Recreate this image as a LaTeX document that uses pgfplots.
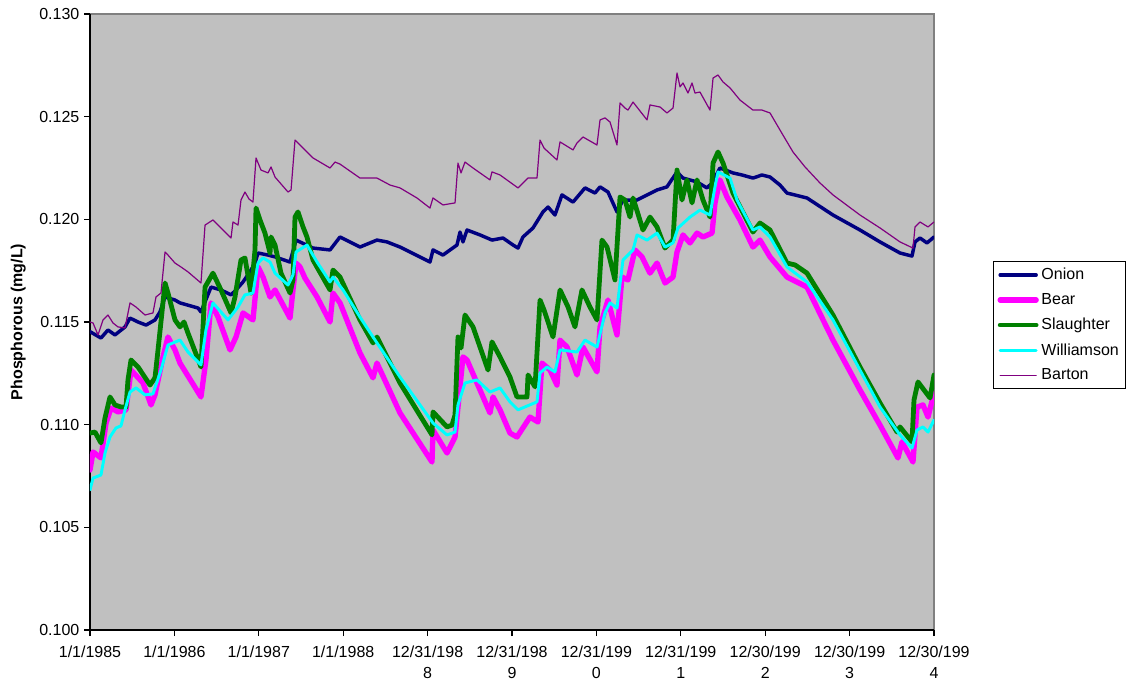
\documentclass[border=0pt]{standalone}
\usepackage{fontspec}
\setmainfont{Liberation Sans}
\usepackage{pgfplots}
\pgfplotsset{compat=1.18}
\definecolor{onion}{HTML}{000080}
\definecolor{bear}{HTML}{FF00FF}
\definecolor{slaughter}{HTML}{008000}
\definecolor{williamson}{HTML}{00FFFF}
\definecolor{barton}{HTML}{800080}
\definecolor{plotgray}{HTML}{C0C0C0}
\begin{document}
\begin{tikzpicture}
\useasboundingbox (-67.5pt,-43.5pt) rectangle (777.75pt,472.5pt);
\begin{axis}[
  scale only axis, width=633pt, height=462pt,
  xmin=1985, xmax=1995, ymin=0.100, ymax=0.130,
  axis background/.style={fill=plotgray, draw=gray, line width=0.8pt},
  axis x line*=bottom, axis y line*=left,
  axis line style={-, black, line width=0.8pt},
  xtick={1985,1986,1987,1988,1989,1990,1991,1992,1993,1994,1995},
  xticklabels={1/1/1985,1/1/1986,1/1/1987,1/1/1988,{12/31/198\\8},{12/31/198\\9},{12/31/199\\0},{12/31/199\\1},{12/30/199\\2},{12/30/199\\3},{12/30/199\\4}},
  xticklabel style={align=center, font=\fontsize{12}{16}\selectfont, yshift=-4pt},
  ytick={0.100,0.105,0.110,0.115,0.120,0.125,0.130},
  yticklabel style={font=\fontsize{12}{14}\selectfont, /pgf/number format/fixed, /pgf/number format/fixed zerofill, /pgf/number format/precision=3},
  /pgf/number format/assume math mode=true,
  scaled y ticks=false,
  tick align=outside, major tick length=4.5pt,
  tick style={black, line width=0.8pt},
  ylabel={\bfseries Phosphorous (mg/L)},
  ylabel style={at={(axis description cs:-0.085,0.5)}, anchor=center, font=\fontsize{12}{14}\selectfont},
  legend style={at={(1.07,0.495)}, anchor=west, draw=black, fill=white, line width=0.6pt,
    font=\fontsize{12}{14}\selectfont, row sep=6.8pt, inner xsep=3pt, inner ysep=4pt,
    nodes={inner xsep=2pt, inner ysep=1pt}},
  legend cell align=left,
  legend image code/.code={\draw[#1] (0pt,0pt) -- (27pt,0pt);},
  every axis plot/.append style={line join=round, line cap=round},
]
% Onion
\addplot[onion, line width=2.6pt] coordinates {
(1985.000,0.11453)(1985.130,0.11422)(1985.213,0.11461)(1985.296,0.11437)(1985.415,0.11476)
(1985.474,0.11519)(1985.569,0.11500)(1985.664,0.11485)(1985.770,0.11510)(1985.829,0.11549)
(1985.889,0.11622)(1986.007,0.11607)(1986.066,0.11593)(1986.280,0.11568)(1986.315,0.11549)
(1986.363,0.11598)(1986.434,0.11670)(1986.552,0.11656)(1986.671,0.11632)(1986.730,0.11656)
(1986.813,0.11695)(1986.908,0.11753)(1986.955,0.11787)(1986.991,0.11836)(1987.109,0.11826)
(1987.192,0.11817)(1987.370,0.11792)(1987.441,0.11899)(1987.642,0.11860)(1987.844,0.11851)
(1987.962,0.11914)(1988.199,0.11865)(1988.400,0.11899)(1988.519,0.11890)(1988.673,0.11865)
(1988.791,0.11841)(1989.028,0.11792)(1989.064,0.11851)(1989.182,0.11826)(1989.348,0.11875)
(1989.384,0.11938)(1989.419,0.11890)(1989.467,0.11948)(1989.621,0.11924)(1989.763,0.11899)
(1989.893,0.11909)(1990.012,0.11875)(1990.071,0.11860)(1990.130,0.11914)(1990.249,0.11958)
(1990.367,0.12036)(1990.427,0.12060)(1990.509,0.12021)(1990.592,0.12119)(1990.723,0.12084)
(1990.865,0.12153)(1990.983,0.12128)(1991.043,0.12158)(1991.137,0.12133)(1991.244,0.12036)
(1991.315,0.12094)(1991.481,0.12094)(1991.718,0.12143)(1991.836,0.12158)(1991.955,0.12231)
(1992.026,0.12201)(1992.192,0.12182)(1992.310,0.12153)(1992.370,0.12177)(1992.464,0.12250)
(1992.618,0.12226)(1992.725,0.12216)(1992.855,0.12201)(1992.962,0.12216)(1993.057,0.12206)
(1993.175,0.12167)(1993.258,0.12128)(1993.495,0.12104)(1993.803,0.12021)(1994.123,0.11948)
(1994.360,0.11890)(1994.597,0.11836)(1994.739,0.11821)(1994.775,0.11890)(1994.834,0.11909)
(1994.917,0.11885)(1995.000,0.11914)
};
\addlegendentry{Onion}
% Bear
\addplot[bear, line width=4pt] coordinates {
(1985.000,0.10779)(1985.036,0.10867)(1985.130,0.10838)(1985.190,0.11008)(1985.249,0.11081)
(1985.332,0.11062)(1985.427,0.11072)(1985.486,0.11266)(1985.628,0.11203)(1985.723,0.11096)
(1985.770,0.11145)(1985.865,0.11330)(1985.924,0.11427)(1986.007,0.11364)(1986.066,0.11300)
(1986.315,0.11135)(1986.374,0.11315)(1986.434,0.11593)(1986.517,0.11524)(1986.659,0.11364)
(1986.730,0.11427)(1986.813,0.11544)(1986.931,0.11510)(1986.991,0.11768)(1987.050,0.11719)
(1987.133,0.11622)(1987.192,0.11656)(1987.370,0.11519)(1987.405,0.11656)(1987.441,0.11787)
(1987.488,0.11768)(1987.547,0.11714)(1987.690,0.11622)(1987.844,0.11500)(1987.879,0.11641)
(1987.962,0.11593)(1988.199,0.11349)(1988.353,0.11228)(1988.400,0.11300)(1988.673,0.11057)
(1989.052,0.10818)(1989.064,0.10974)(1989.230,0.10862)(1989.325,0.10940)(1989.419,0.11330)
(1989.467,0.11315)(1989.739,0.11057)(1989.775,0.11135)(1989.858,0.11072)(1989.976,0.10959)
(1990.059,0.10940)(1990.213,0.11037)(1990.308,0.11013)(1990.355,0.11300)(1990.450,0.11266)
(1990.533,0.11193)(1990.569,0.11412)(1990.652,0.11378)(1990.770,0.11242)(1990.841,0.11378)
(1991.007,0.11257)(1991.043,0.11476)(1991.137,0.11607)(1991.244,0.11437)(1991.303,0.11719)
(1991.374,0.11705)(1991.457,0.11851)(1991.540,0.11817)(1991.635,0.11738)(1991.718,0.11787)
(1991.813,0.11690)(1991.908,0.11719)(1991.955,0.11841)(1992.026,0.11924)(1992.109,0.11885)
(1992.192,0.11933)(1992.263,0.11914)(1992.370,0.11933)(1992.405,0.12080)(1992.464,0.12192)
(1992.547,0.12109)(1992.701,0.11997)(1992.855,0.11865)(1992.938,0.11899)(1993.057,0.11817)
(1993.258,0.11719)(1993.495,0.11670)(1993.803,0.11412)(1994.123,0.11169)(1994.360,0.10998)
(1994.573,0.10838)(1994.621,0.10916)(1994.751,0.10818)(1994.799,0.11086)(1994.870,0.11096)
(1994.929,0.11037)(1995.000,0.11154)
};
\addlegendentry{Bear}
% Slaughter
\addplot[slaughter, line width=3.6pt] coordinates {
(1985.000,0.10959)(1985.059,0.10964)(1985.130,0.10911)(1985.178,0.11033)(1985.237,0.11135)
(1985.296,0.11096)(1985.367,0.11086)(1985.427,0.11086)(1985.450,0.11218)(1985.486,0.11315)
(1985.569,0.11281)(1985.711,0.11193)(1985.770,0.11228)(1985.806,0.11364)(1985.889,0.11690)
(1985.924,0.11641)(1986.007,0.11510)(1986.066,0.11476)(1986.114,0.11500)(1986.161,0.11446)
(1986.315,0.11281)(1986.363,0.11670)(1986.457,0.11738)(1986.552,0.11656)(1986.671,0.11544)
(1986.718,0.11622)(1986.789,0.11802)(1986.836,0.11812)(1986.908,0.11641)(1986.955,0.11851)
(1986.967,0.12055)(1987.014,0.11997)(1987.073,0.11933)(1987.133,0.11836)(1987.145,0.11914)
(1987.192,0.11875)(1987.263,0.11738)(1987.370,0.11641)(1987.405,0.11705)(1987.429,0.12011)
(1987.464,0.12036)(1987.524,0.11963)(1987.571,0.11914)(1987.642,0.11802)(1987.844,0.11656)
(1987.879,0.11753)(1987.962,0.11719)(1988.199,0.11510)(1988.353,0.11398)(1988.400,0.11427)
(1988.673,0.11203)(1989.052,0.10950)(1989.064,0.11062)(1989.230,0.10989)(1989.289,0.10998)
(1989.325,0.11047)(1989.360,0.11427)(1989.396,0.11373)(1989.443,0.11534)(1989.538,0.11476)
(1989.716,0.11266)(1989.763,0.11403)(1989.858,0.11330)(1989.976,0.11232)(1990.059,0.11135)
(1990.178,0.11135)(1990.190,0.11242)(1990.273,0.11184)(1990.332,0.11607)(1990.379,0.11559)
(1990.486,0.11427)(1990.569,0.11656)(1990.664,0.11573)(1990.746,0.11476)(1990.829,0.11656)
(1990.924,0.11573)(1991.007,0.11510)(1991.066,0.11899)(1991.126,0.11865)(1991.220,0.11705)
(1991.280,0.12109)(1991.339,0.12094)(1991.398,0.12011)(1991.434,0.12104)(1991.552,0.11948)
(1991.635,0.12011)(1991.718,0.11963)(1991.813,0.11860)(1991.908,0.11899)(1991.955,0.12240)
(1992.014,0.12094)(1992.073,0.12192)(1992.133,0.12080)(1992.192,0.12192)(1992.263,0.12094)
(1992.346,0.12011)(1992.382,0.12274)(1992.441,0.12328)(1992.500,0.12274)(1992.618,0.12128)
(1992.855,0.11938)(1992.938,0.11982)(1993.057,0.11948)(1993.258,0.11787)(1993.353,0.11778)
(1993.495,0.11738)(1993.803,0.11534)(1994.123,0.11281)(1994.360,0.11106)(1994.562,0.10964)
(1994.597,0.10989)(1994.739,0.10916)(1994.763,0.11120)(1994.810,0.11208)(1994.953,0.11130)
(1995.000,0.11242)
};
\addlegendentry{Slaughter}
% Williamson
\addplot[williamson, line width=2.2pt] coordinates {
(1985.000,0.10682)(1985.036,0.10740)(1985.130,0.10755)(1985.178,0.10862)(1985.237,0.10940)
(1985.308,0.10984)(1985.367,0.10994)(1985.415,0.11072)(1985.474,0.11159)(1985.545,0.11179)
(1985.652,0.11145)(1985.746,0.11150)(1985.841,0.11266)(1985.924,0.11388)(1986.066,0.11412)
(1986.161,0.11354)(1986.315,0.11291)(1986.374,0.11461)(1986.457,0.11593)(1986.635,0.11510)
(1986.754,0.11573)(1986.836,0.11632)(1986.931,0.11641)(1986.991,0.11787)(1987.050,0.11812)
(1987.133,0.11792)(1987.192,0.11738)(1987.346,0.11680)(1987.405,0.11729)(1987.441,0.11841)
(1987.571,0.11875)(1987.690,0.11792)(1987.844,0.11695)(1987.879,0.11719)(1987.998,0.11656)
(1988.199,0.11524)(1988.353,0.11427)(1988.673,0.11232)(1989.064,0.11008)(1989.230,0.10950)
(1989.325,0.10964)(1989.360,0.11096)(1989.443,0.11203)(1989.585,0.11218)(1989.739,0.11159)
(1989.858,0.11179)(1989.976,0.11111)(1990.071,0.11072)(1990.296,0.11111)(1990.332,0.11252)
(1990.415,0.11281)(1990.509,0.11257)(1990.569,0.11364)(1990.770,0.11354)(1990.865,0.11412)
(1991.007,0.11378)(1991.102,0.11544)(1991.161,0.11593)(1991.244,0.11568)(1991.315,0.11802)
(1991.434,0.11851)(1991.481,0.11924)(1991.600,0.11899)(1991.718,0.11933)(1991.813,0.11865)
(1991.908,0.11885)(1991.967,0.11958)(1992.109,0.12011)(1992.227,0.12045)(1992.346,0.12021)
(1992.405,0.12158)(1992.441,0.12231)(1992.583,0.12201)(1992.666,0.12094)(1992.855,0.11948)
(1992.938,0.11963)(1993.057,0.11914)(1993.258,0.11768)(1993.495,0.11695)(1993.803,0.11510)
(1994.123,0.11266)(1994.360,0.11086)(1994.597,0.10950)(1994.739,0.10886)(1994.799,0.10974)
(1994.870,0.10989)(1994.929,0.10964)(1995.000,0.11023)
};
\addlegendentry{Williamson}
% Barton
\addplot[barton, line width=0.9pt] coordinates {
(1985.000,0.11500)(1985.036,0.11495)(1985.095,0.11437)(1985.154,0.11510)(1985.213,0.11534)
(1985.273,0.11495)(1985.332,0.11476)(1985.415,0.11471)(1985.474,0.11593)(1985.545,0.11573)
(1985.652,0.11534)(1985.746,0.11544)(1985.782,0.11622)(1985.841,0.11641)(1985.889,0.11841)
(1985.924,0.11826)(1986.007,0.11787)(1986.078,0.11768)(1986.161,0.11744)(1986.315,0.11690)
(1986.363,0.11972)(1986.457,0.11997)(1986.671,0.11909)(1986.694,0.11987)(1986.754,0.11972)
(1986.789,0.12094)(1986.836,0.12133)(1986.884,0.12099)(1986.931,0.12084)(1986.967,0.12299)
(1987.026,0.12240)(1987.109,0.12226)(1987.145,0.12255)(1987.192,0.12206)(1987.346,0.12133)
(1987.382,0.12143)(1987.429,0.12386)(1987.464,0.12372)(1987.524,0.12347)(1987.642,0.12299)
(1987.844,0.12250)(1987.903,0.12279)(1987.962,0.12269)(1988.199,0.12201)(1988.400,0.12201)
(1988.555,0.12167)(1988.673,0.12153)(1988.874,0.12104)(1989.028,0.12055)(1989.064,0.12104)
(1989.182,0.12070)(1989.325,0.12080)(1989.360,0.12274)(1989.396,0.12226)(1989.443,0.12279)
(1989.538,0.12250)(1989.739,0.12192)(1989.763,0.12231)(1989.858,0.12216)(1990.071,0.12153)
(1990.190,0.12201)(1990.296,0.12201)(1990.332,0.12386)(1990.379,0.12347)(1990.533,0.12289)
(1990.569,0.12377)(1990.723,0.12338)(1990.770,0.12372)(1990.841,0.12401)(1991.007,0.12362)
(1991.043,0.12484)(1991.102,0.12494)(1991.161,0.12474)(1991.244,0.12362)(1991.280,0.12567)
(1991.339,0.12542)(1991.374,0.12532)(1991.434,0.12571)(1991.600,0.12484)(1991.635,0.12557)
(1991.754,0.12547)(1991.836,0.12518)(1991.908,0.12542)(1991.955,0.12713)(1991.991,0.12645)
(1992.026,0.12664)(1992.085,0.12615)(1992.133,0.12664)(1992.168,0.12615)(1992.227,0.12620)
(1992.346,0.12532)(1992.382,0.12688)(1992.441,0.12703)(1992.500,0.12669)(1992.583,0.12640)
(1992.701,0.12581)(1992.855,0.12532)(1992.962,0.12532)(1993.057,0.12518)(1993.175,0.12435)
(1993.329,0.12328)(1993.472,0.12255)(1993.649,0.12177)(1993.803,0.12119)(1994.123,0.12021)
(1994.360,0.11958)(1994.597,0.11890)(1994.751,0.11860)(1994.775,0.11963)(1994.834,0.11987)
(1994.929,0.11963)(1995.000,0.11987)
};
\addlegendentry{Barton}
\end{axis}
\end{tikzpicture}
\end{document}
